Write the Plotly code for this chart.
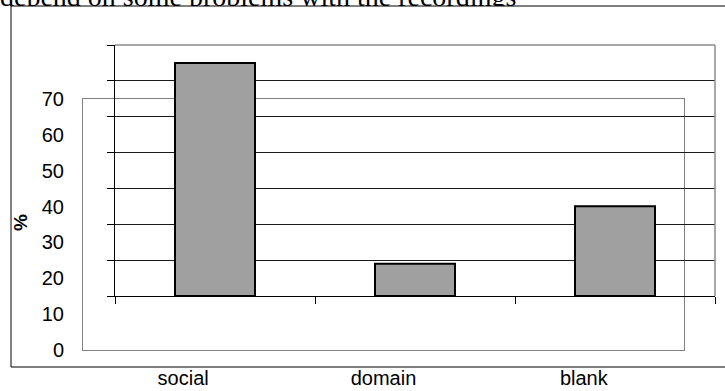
import plotly.graph_objects as go

# Share of each category (%)
categories = ["social", "domain", "blank"]
percent = [65, 9, 25]

y_ticks = [0, 10, 20, 30, 40, 50, 60, 70]
y_label = "%"
header_text = "depend on some problems with the recordings"

W, H = 725, 391


def px_x(p):
    return p / W


def px_y(p):
    return 1 - p / H


fig = go.Figure()

# Frame subplot (xy): carries the value labels and the category labels
fig.add_trace(go.Scatter(
    x=categories, y=percent, mode="markers",
    marker=dict(size=1, opacity=0), hoverinfo="skip", showlegend=False,
    xaxis="x", yaxis="y",
))

# Bar subplot (x2y2)
fig.add_trace(go.Bar(
    x=categories, y=percent,
    marker=dict(color="#a0a0a0", line=dict(color="#000000", width=2)),
    hoverinfo="skip", showlegend=False,
    xaxis="x2", yaxis="y2",
))

# Heading line of the surrounding document, clipped by its own strip
fig.add_trace(go.Scatter(
    x=[0], y=[13], mode="text", text=[header_text],
    textposition="top right",
    textfont=dict(family="Liberation Serif", size=28, color="#000000"),
    cliponaxis=True, hoverinfo="skip", showlegend=False,
    xaxis="x3", yaxis="y3",
))

label_font = dict(family="Liberation Sans", size=20, color="#000000")

fig.update_layout(
    width=W, height=H,
    margin=dict(l=0, r=0, t=0, b=0, pad=0, autoexpand=False),
    paper_bgcolor="#ffffff",
    plot_bgcolor="rgba(0,0,0,0)",
    bargap=0.6,
    xaxis=dict(
        domain=[px_x(83), px_x(684)],
        type="category", categoryorder="array", categoryarray=categories,
        range=[-0.5, 2.5], automargin=False,
        showline=True, linecolor="#808080", linewidth=1, mirror=True,
        showgrid=False, zeroline=False, ticks="",
        tickfont=label_font, ticklabelstandoff=10,
        anchor="y",
    ),
    yaxis=dict(
        domain=[px_y(350), px_y(99)],
        range=[0, 70], tickvals=y_ticks, automargin=False,
        showline=True, linecolor="#808080", linewidth=1, mirror=True,
        showgrid=False, zeroline=False, ticks="",
        tickfont=label_font, ticklabelstandoff=14,
        anchor="x",
    ),
    xaxis2=dict(
        domain=[px_x(115), px_x(715)],
        type="category", categoryorder="array", categoryarray=categories,
        range=[-0.5, 2.5], automargin=False,
        showline=True, linecolor="#000000", linewidth=1,
        showgrid=False, zeroline=False,
        ticks="outside", ticklen=7, tickcolor="#000000", tickwidth=1,
        tickson="boundaries", showticklabels=False,
        anchor="y2",
    ),
    yaxis2=dict(
        domain=[px_y(296), px_y(45)],
        range=[0, 70], tickvals=y_ticks, automargin=False,
        showline=True, linecolor="#000000", linewidth=1,
        showgrid=True, gridcolor="#1a1a1a", gridwidth=1, zeroline=False,
        ticks="outside", ticklen=7, tickcolor="#000000", tickwidth=1,
        showticklabels=False,
        anchor="x2",
    ),
    xaxis3=dict(domain=[0, 1], range=[0, W], visible=False, anchor="y3",
                fixedrange=True, automargin=False),
    yaxis3=dict(domain=[px_y(6), 1], range=[6, 0], visible=False,
                anchor="x3", fixedrange=True, automargin=False),
    shapes=[
        # outer chart border (runs off the right edge)
        dict(type="rect", xref="paper", yref="paper",
             x0=px_x(11), x1=px_x(760), y0=px_y(367), y1=px_y(6),
             line=dict(color="#000000", width=1), layer="below"),
        # grey top and right edges of the bar plot area
        dict(type="line", xref="x2 domain", yref="y2 domain",
             x0=0, x1=1, y0=1, y1=1,
             line=dict(color="#8c8c8c", width=1.5), layer="above"),
        dict(type="line", xref="x2 domain", yref="y2 domain",
             x0=1, x1=1, y0=0, y1=1,
             line=dict(color="#8c8c8c", width=1.5), layer="above"),
    ],
    annotations=[
        dict(text=y_label, xref="paper", yref="paper",
             x=px_x(20), y=px_y(223), textangle=-90, showarrow=False,
             font=dict(family="Liberation Sans", size=19, color="#000000",
                       weight="bold"),
             xanchor="center", yanchor="middle"),
    ],
)

fig.write_html("out.html")
